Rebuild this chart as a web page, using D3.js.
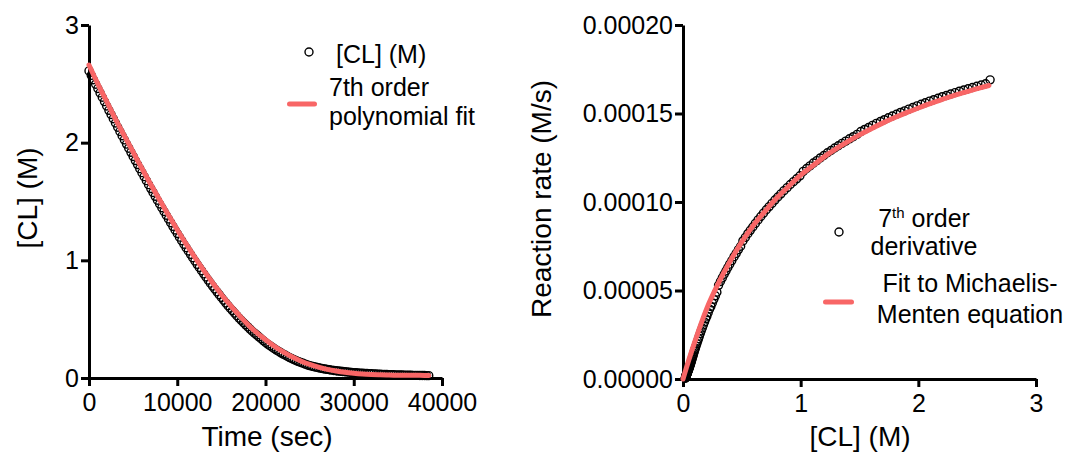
<!DOCTYPE html>
<html>
<head>
<meta charset="utf-8">
<script src="https://cdn.jsdelivr.net/npm/d3@7"></script>
<style>
  body { margin: 0; background: #fff; }
  svg text { font-family: "Liberation Sans", Arial, sans-serif; fill: #000; }
  .axis path, .axis line { stroke: #000; stroke-width: 3; }
  .axis text { font-size: 25px; }
  .title { font-size: 28px; }
  .legend { font-size: 25px; }
</style>
</head>
<body>
<div id="chart"></div>
<script>
// Left panel: [CL] vs time (sec), sampled every 250 s
var timeSec = [
  0, 250, 500, 750, 1000, 1250, 1500, 1750, 2000, 2250,
  2500, 2750, 3000, 3250, 3500, 3750, 4000, 4250, 4500, 4750,
  5000, 5250, 5500, 5750, 6000, 6250, 6500, 6750, 7000, 7250,
  7500, 7750, 8000, 8250, 8500, 8750, 9000, 9250, 9500, 9750,
  10000, 10250, 10500, 10750, 11000, 11250, 11500, 11750, 12000, 12250,
  12500, 12750, 13000, 13250, 13500, 13750, 14000, 14250, 14500, 14750,
  15000, 15250, 15500, 15750, 16000, 16250, 16500, 16750, 17000, 17250,
  17500, 17750, 18000, 18250, 18500, 18750, 19000, 19250, 19500, 19750,
  20000, 20250, 20500, 20750, 21000, 21250, 21500, 21750, 22000, 22250,
  22500, 22750, 23000, 23250, 23500, 23750, 24000, 24250, 24500, 24750,
  25000, 25250, 25500, 25750, 26000, 26250, 26500, 26750, 27000, 27250,
  27500, 27750, 28000, 28250, 28500, 28750, 29000, 29250, 29500, 29750,
  30000, 30250, 30500, 30750, 31000, 31250, 31500, 31750, 32000, 32250,
  32500, 32750, 33000, 33250, 33500, 33750, 34000, 34250, 34500, 34750,
  35000, 35250, 35500, 35750, 36000, 36250, 36500, 36750, 37000, 37250,
  37500, 37750, 38000, 38250, 38500
];
var clConc = [
  2.610, 2.572, 2.535, 2.497, 2.460, 2.423, 2.386, 2.349, 2.312, 2.275,
  2.239, 2.203, 2.167, 2.131, 2.095, 2.059, 2.024, 1.988, 1.953, 1.918,
  1.883, 1.848, 1.814, 1.779, 1.745, 1.711, 1.677, 1.643, 1.610, 1.577,
  1.544, 1.511, 1.479, 1.447, 1.415, 1.383, 1.351, 1.320, 1.289, 1.258,
  1.228, 1.197, 1.167, 1.137, 1.108, 1.079, 1.051, 1.022, 0.994, 0.966,
  0.939, 0.912, 0.885, 0.858, 0.832, 0.806, 0.781, 0.756, 0.732, 0.708,
  0.684, 0.661, 0.638, 0.615, 0.593, 0.572, 0.551, 0.530, 0.509, 0.490,
  0.471, 0.452, 0.434, 0.415, 0.397, 0.381, 0.366, 0.350, 0.334, 0.318,
  0.302, 0.288, 0.275, 0.262, 0.249, 0.237, 0.226, 0.214, 0.203, 0.193,
  0.183, 0.173, 0.164, 0.155, 0.147, 0.139, 0.132, 0.125, 0.118, 0.111,
  0.105, 0.100, 0.096, 0.091, 0.087, 0.083, 0.080, 0.076, 0.073, 0.070,
  0.067, 0.064, 0.062, 0.059, 0.057, 0.055, 0.053, 0.051, 0.049, 0.047,
  0.046, 0.044, 0.043, 0.041, 0.040, 0.039, 0.038, 0.037, 0.036, 0.035,
  0.034, 0.033, 0.032, 0.031, 0.030, 0.0295, 0.029, 0.028, 0.027, 0.0265,
  0.026, 0.0255, 0.025, 0.0245, 0.024, 0.0235, 0.023, 0.0225, 0.022, 0.022,
  0.0215, 0.021, 0.021, 0.0205, 0.020
];

// 7th order polynomial fit (red line, left)
var polyFitTime = [
  0, 1000, 2000, 3000, 4000, 5000, 6000, 7000, 8000, 9000,
  10000, 11000, 12000, 13000, 14000, 15000, 16000, 17000, 18000, 19000,
  20000, 21000, 22000, 23000, 24000, 25000, 26000, 27000, 28000, 29000,
  30000, 31000, 32000, 33000, 34000, 35000, 36000, 37000, 38000, 38500
];
var polyFitCL = [
  2.66, 2.50, 2.35, 2.20, 2.06, 1.92, 1.78, 1.645, 1.515, 1.385,
  1.26, 1.14, 1.025, 0.915, 0.81, 0.71, 0.62, 0.535, 0.455, 0.385,
  0.325, 0.27, 0.222, 0.18, 0.145, 0.115, 0.092, 0.073, 0.059, 0.048,
  0.040, 0.034, 0.030, 0.027, 0.025, 0.024, 0.023, 0.023, 0.022, 0.022
];

// Right panel: reaction rate (derivative) at each [CL] above, in units of 1e-5 M/s
var rateE5 = [
  16.90, 16.68, 16.61, 16.54, 16.47, 16.40, 16.33, 16.26, 16.18, 16.10,
  16.02, 15.95, 15.86, 15.78, 15.70, 15.61, 15.52, 15.43, 15.34, 15.25,
  15.15, 15.06, 14.96, 14.86, 14.76, 14.65, 14.55, 14.44, 14.33, 14.21,
  14.10, 13.98, 13.82, 13.69, 13.57, 13.44, 13.31, 13.18, 13.05, 12.91,
  12.78, 12.63, 12.49, 12.34, 12.20, 12.04, 11.89, 11.73, 11.48, 11.31,
  11.15, 10.99, 10.81, 10.64, 10.46, 10.28, 10.11, 9.92, 9.74, 9.56,
  9.37, 9.18, 8.99, 8.79, 8.59, 8.40, 8.21, 8.00, 7.80, 7.50,
  7.31, 7.10, 6.91, 6.69, 6.49, 6.30, 6.11, 5.92, 5.71, 5.51,
  5.29, 4.90, 4.70, 4.50, 4.30, 4.10, 3.95, 3.75, 3.55, 3.40,
  3.22, 3.05, 2.88, 2.72, 2.57, 2.42, 2.28, 2.14, 2.00, 1.86,
  1.74, 1.65, 1.55, 1.45, 1.35, 1.27, 1.20, 1.12, 1.05, 0.98,
  0.92, 0.86, 0.81, 0.76, 0.72, 0.68, 0.64, 0.60, 0.57, 0.54,
  0.51, 0.48, 0.45, 0.43, 0.41, 0.39, 0.37, 0.35, 0.33, 0.31,
  0.30, 0.28, 0.27, 0.26, 0.25, 0.24, 0.23, 0.22, 0.21, 0.20,
  0.19, 0.18, 0.17, 0.16, 0.15, 0.14, 0.13, 0.12, 0.11, 0.10,
  0.09, 0.08, 0.07, 0.06, 0.05
];

// Michaelis-Menten fit (red line, right)
var mmFitCL = [0, 0.05, 0.1, 0.2, 0.3, 0.4, 0.5, 0.6, 0.7, 0.8, 0.9, 1.0, 1.1, 1.2,
  1.3, 1.4, 1.5, 1.6, 1.7, 1.8, 1.9, 2.0, 2.1, 2.2, 2.3, 2.4, 2.5, 2.6];
var mmFitRateE5 = [0, 1.09, 2.10, 3.95, 5.40, 6.65, 7.75, 8.70, 9.50, 10.25, 10.90, 11.52, 12.03, 12.55,
  13.00, 13.41, 13.79, 14.14, 14.47, 14.77, 15.05, 15.31, 15.56, 15.79, 16.01, 16.21, 16.40, 16.58];

// Ticks
var timeTicks = [0, 10000, 20000, 30000, 40000];
var clTicks = [0, 1, 2, 3];
var rateTicksE5 = [0, 5, 10, 15, 20];
var rateTickLabels = ["0.00000", "0.00005", "0.00010", "0.00015", "0.00020"];

var red = "#f86666";

var svg = d3.select("#chart").append("svg")
    .attr("width", 1067)
    .attr("height", 453);

// ---------- left panel ----------
var xTime = d3.scaleLinear().domain([0, 40000]).range([89, 442]);
var yCL = d3.scaleLinear().domain([0, 3]).range([378, 25]);

svg.append("g")
    .attr("class", "axis")
    .attr("transform", "translate(0,378)")
    .call(d3.axisBottom(xTime).tickValues(timeTicks).tickFormat(d3.format("d"))
      .tickSize(8).tickSizeOuter(0).tickPadding(7));

svg.append("g")
    .attr("class", "axis")
    .attr("transform", "translate(89,0)")
    .call(d3.axisLeft(yCL).tickValues(clTicks).tickFormat(d3.format("d"))
      .tickSize(8).tickSizeOuter(0).tickPadding(2));

var leftPts = timeSec.map(function(t, i) { return [t, clConc[i]]; });
svg.append("g").selectAll("circle")
    .data(leftPts)
    .enter().append("circle")
    .attr("cx", function(d) { return xTime(d[0]); })
    .attr("cy", function(d) { return yCL(d[1]); })
    .attr("r", 4)
    .attr("fill", "none")
    .attr("stroke", "#000")
    .attr("stroke-width", 1.4);

var polyLine = d3.line()
    .x(function(d) { return xTime(d[0]); })
    .y(function(d) { return yCL(d[1]); })
    .curve(d3.curveMonotoneX);

svg.append("path")
    .datum(polyFitTime.map(function(t, i) { return [t, polyFitCL[i]]; }))
    .attr("d", polyLine)
    .attr("fill", "none")
    .attr("stroke", red)
    .attr("stroke-width", 5)
    .attr("stroke-linecap", "round");

svg.append("text").attr("class", "title")
    .attr("x", 267).attr("y", 446)
    .attr("text-anchor", "middle")
    .text("Time (sec)");

svg.append("text").attr("class", "title")
    .attr("transform", "translate(37,198) rotate(-90)")
    .attr("text-anchor", "middle")
    .text("[CL] (M)");

// legend left
svg.append("circle").attr("cx", 309).attr("cy", 52).attr("r", 4)
    .attr("fill", "none").attr("stroke", "#000").attr("stroke-width", 1.4);
svg.append("text").attr("class", "legend").attr("x", 336).attr("y", 63).text("[CL] (M)");
svg.append("line").attr("x1", 289.5).attr("x2", 314.5).attr("y1", 104).attr("y2", 104)
    .attr("stroke", red).attr("stroke-width", 5).attr("stroke-linecap", "round");
svg.append("text").attr("class", "legend").attr("x", 329).attr("y", 96).text("7th order");
svg.append("text").attr("class", "legend").attr("x", 329).attr("y", 125).text("polynomial fit");

// ---------- right panel ----------
var xCL = d3.scaleLinear().domain([0, 3]).range([683, 1036]);
var yRate = d3.scaleLinear().domain([0, 20]).range([379, 25]);

svg.append("g")
    .attr("class", "axis")
    .attr("transform", "translate(0,379)")
    .call(d3.axisBottom(xCL).tickValues(clTicks).tickFormat(d3.format("d"))
      .tickSize(8).tickSizeOuter(0).tickPadding(7));

svg.append("g")
    .attr("class", "axis")
    .attr("transform", "translate(683,0)")
    .call(d3.axisLeft(yRate).tickValues(rateTicksE5)
      .tickFormat(function(d, i) { return rateTickLabels[i]; })
      .tickSize(8).tickSizeOuter(0).tickPadding(2));

var rightPts = clConc.map(function(c, i) { return [c, rateE5[i]]; });
svg.append("g").selectAll("circle")
    .data(rightPts)
    .enter().append("circle")
    .attr("cx", function(d) { return xCL(d[0]); })
    .attr("cy", function(d) { return yRate(d[1]); })
    .attr("r", 4)
    .attr("fill", "none")
    .attr("stroke", "#000")
    .attr("stroke-width", 1.4);

var mmLine = d3.line()
    .x(function(d) { return xCL(d[0]); })
    .y(function(d) { return yRate(d[1]); })
    .curve(d3.curveMonotoneX);

svg.append("path")
    .datum(mmFitCL.map(function(c, i) { return [c, mmFitRateE5[i]]; }))
    .attr("d", mmLine)
    .attr("fill", "none")
    .attr("stroke", red)
    .attr("stroke-width", 5)
    .attr("stroke-linecap", "round");

svg.append("text").attr("class", "title")
    .attr("x", 860).attr("y", 446)
    .attr("text-anchor", "middle")
    .text("[CL] (M)");

svg.append("text").attr("class", "title")
    .attr("transform", "translate(551,199) rotate(-90)")
    .attr("text-anchor", "middle")
    .text("Reaction rate (M/s)");

// legend right
svg.append("circle").attr("cx", 839).attr("cy", 232).attr("r", 4)
    .attr("fill", "none").attr("stroke", "#000").attr("stroke-width", 1.4);
var sup = svg.append("text").attr("class", "legend")
    .attr("x", 924).attr("y", 227).attr("text-anchor", "middle");
sup.append("tspan").text("7");
sup.append("tspan").attr("dy", -9).style("font-size", "15px").text("th");
sup.append("tspan").attr("dy", 9).text(" order");
svg.append("text").attr("class", "legend").attr("x", 924).attr("y", 255)
    .attr("text-anchor", "middle").text("derivative");
svg.append("line").attr("x1", 825.5).attr("x2", 851.5).attr("y1", 302).attr("y2", 302)
    .attr("stroke", red).attr("stroke-width", 5).attr("stroke-linecap", "round");
svg.append("text").attr("class", "legend").attr("x", 970).attr("y", 292)
    .attr("text-anchor", "middle").text("Fit to Michaelis-");
svg.append("text").attr("class", "legend").attr("x", 970).attr("y", 323)
    .attr("text-anchor", "middle").text("Menten equation");
</script>
</body>
</html>
